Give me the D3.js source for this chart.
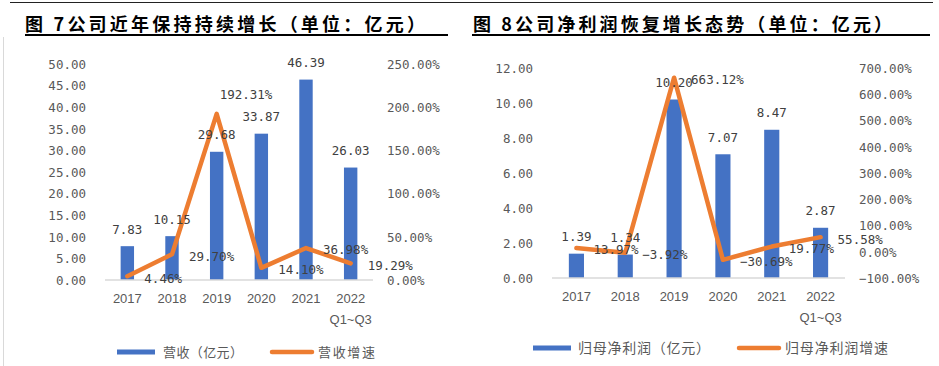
<!DOCTYPE html>
<html><head><meta charset="utf-8">
<script src="https://cdn.jsdelivr.net/npm/d3@7"></script>
<style>
html,body{margin:0;padding:0;background:#fff;}
svg{display:block;}
</style></head>
<body>
<svg id="c" width="939" height="366"></svg>
<script>
// ---- data ----
const categories = ["2017","2018","2019","2020","2021","2022|Q1~Q3"];
const revenue = [7.83, 10.15, 29.68, 33.87, 46.39, 26.03];
const revenueGrowth = [4.46, 29.70, 192.31, 14.10, 36.98, 19.29];
const profit = [1.39, 1.34, 10.20, 7.07, 8.47, 2.87];
const profitGrowth = [13.97, -3.92, 663.12, -30.69, 19.77, 55.58];
const revLeftTicks = [0,5,10,15,20,25,30,35,40,45,50];
const revRightTicks = [0,50,100,150,200,250];
const profLeftTicks = [0,2,4,6,8,10,12];
const profRightTicks = [-100,0,100,200,300,400,500,600,700];
const revGrowthLabelPlacement = ["right","right","above","right","right","right"];
const profGrowthLabelPlacement = ["right","right","right","right","right","right"];
const titles = ["图 7公司近年保持持续增长（单位：亿元）","图 8公司净利润恢复增长态势（单位：亿元）"];
const legendRev = ["营收（亿元）","营收增速"];
const legendProf = ["归母净利润（亿元）","归母净利润增速"];

const BLUE = "#4472C4", ORANGE = "#ED7D31", GRAY = "#595959", DARK = "#404040";
const MONO = "'DejaVu Sans Mono', 'Liberation Mono', monospace";
const SANS = "'Liberation Sans', Arial, sans-serif";
const CJK = "'Noto Sans CJK SC', sans-serif";

const svg = d3.select("#c");

// frame lines
svg.append("line").attr("x1",10).attr("x2",933).attr("y1",2.5).attr("y2",2.5)
  .attr("stroke","#222").attr("stroke-width",1);
svg.append("line").attr("x1",3.5).attr("x2",3.5).attr("y1",37).attr("y2",366)
  .attr("stroke","#d9d9d9").attr("stroke-width",1);

function drawTitle(text, x, len, ux1, ux2){
  svg.append("text").attr("x",x).attr("y",23).attr("dominant-baseline","central")
    .attr("font-family",CJK).attr("font-weight",700).attr("font-size",18)
    .attr("fill","#000").attr("textLength",len).attr("lengthAdjust","spacing").text(text);
  svg.append("line").attr("x1",ux1).attr("x2",ux2).attr("y1",35).attr("y2",35)
    .attr("stroke","#000").attr("stroke-width",2);
}
drawTitle(titles[0], 25, 400, 25, 448);
drawTitle(titles[1], 473, 419, 472, 930);

function drawChart(o){
  const g = svg.append("g");
  const x = d3.scaleBand().domain(o.cats).range([o.x0,o.x1]).paddingInner(o.pad).paddingOuter(o.pad/2);
  const yL = d3.scaleLinear().domain(o.lDom).range([o.yBot,o.yTop]);
  const yR = d3.scaleLinear().domain(o.rDom).range([o.yBot,o.yTop]);
  const cx = c => x(c) + x.bandwidth()/2;

  const aL = g.append("g").attr("transform",`translate(${o.x0},0)`)
    .call(d3.axisLeft(yL).tickValues(o.lTicks).tickSize(0).tickPadding(19).tickFormat(d3.format(".2f")));
  aL.select(".domain").remove();
  aL.selectAll("text").attr("font-family",MONO).attr("font-size",12.5).attr("fill",GRAY).attr("dy","0.35em").attr("y",0);

  const aR = g.append("g").attr("transform",`translate(${o.x1},0)`)
    .call(d3.axisRight(yR).tickValues(o.rTicks).tickSize(0).tickPadding(14).tickFormat(d => d3.format(".2f")(d)+"%"));
  aR.select(".domain").remove();
  aR.selectAll("text").attr("font-family",MONO).attr("font-size",12.5).attr("fill",GRAY).attr("dy","0.35em").attr("y",0);

  g.selectAll("rect.bar").data(o.bars).join("rect").attr("class","bar")
    .attr("x",(d,i)=>x(o.cats[i])).attr("width",x.bandwidth())
    .attr("y",d=>yL(d)).attr("height",d=>yL(0)-yL(d)).attr("fill",BLUE);

  g.append("line").attr("x1",o.x0).attr("x2",o.x1).attr("y1",yL(0)).attr("y2",yL(0))
    .attr("stroke","#d9d9d9").attr("stroke-width",1.5);

  const aX = g.append("g").attr("transform",`translate(0,${yL(0)})`)
    .call(d3.axisBottom(x).tickSize(0).tickPadding(0).tickFormat(""));
  aX.select(".domain").remove();
  aX.selectAll(".tick").each(function(c){
    const parts = c.split("|");
    parts.forEach((p,k)=>d3.select(this).append("text").attr("x",0).attr("y",18 + k*21).attr("dy","0.35em")
      .attr("fill",GRAY).attr("font-family",SANS).attr("font-size",13).attr("text-anchor","middle").text(p));
  });

  const line = d3.line().x((d,i)=>cx(o.cats[i])).y(d=>yR(d));
  g.append("path").datum(o.line).attr("d",line).attr("fill","none")
    .attr("stroke",ORANGE).attr("stroke-width",4.5).attr("stroke-linejoin","round").attr("stroke-linecap","round");

  g.selectAll("text.bl").data(o.bars).join("text").attr("class","bl")
    .attr("x",(d,i)=>cx(o.cats[i])).attr("y",d=>yL(d)-17).attr("dy","0.35em")
    .attr("text-anchor","middle").attr("font-family",MONO).attr("font-size",12.5).attr("fill",DARK)
    .text(d=>d3.format(".2f")(d));

  g.selectAll("text.ll").data(o.line).join("text").attr("class","ll")
    .attr("x",(d,i)=>cx(o.cats[i]) + (o.place[i]==="above" ? 3 : 17))
    .attr("y",(d,i)=>yR(d) + (o.place[i]==="above" ? -19 : 2)).attr("dy","0.35em")
    .attr("text-anchor","start").attr("font-family",MONO).attr("font-size",12.5).attr("fill",DARK)
    .text(d=>d3.format(".2f")(d)+"%");

  const L = o.legend;
  g.append("rect").attr("x",L.x1).attr("y",L.y-2.5).attr("width",38).attr("height",5).attr("fill",BLUE);
  g.append("text").attr("x",L.t1).attr("y",L.y).attr("dy","0.35em").attr("font-family",CJK)
    .attr("font-size",L.fs).attr("fill",GRAY).attr("textLength",L.len1).attr("lengthAdjust","spacing").text(L.labels[0]);
  g.append("line").attr("x1",L.x2).attr("x2",L.x2+40).attr("y1",L.y).attr("y2",L.y)
    .attr("stroke",ORANGE).attr("stroke-width",4.5).attr("stroke-linecap","round");
  g.append("text").attr("x",L.t2).attr("y",L.y).attr("dy","0.35em").attr("font-family",CJK)
    .attr("font-size",L.fs).attr("fill",GRAY).attr("textLength",L.len2).attr("lengthAdjust","spacing").text(L.labels[1]);
}

drawChart({
  cats: categories, bars: revenue, line: revenueGrowth, place: revGrowthLabelPlacement,
  x0:105, x1:373, yBot:280, yTop:64, pad:0.7,
  lDom:[0,50], rDom:[0,250], lTicks:revLeftTicks, rTicks:revRightTicks,
  legend:{x1:117, t1:163, x2:272, t2:318, y:352, fs:13, len1:80, len2:57, labels:legendRev}
});
drawChart({
  cats: categories, bars: profit, line: profitGrowth, place: profGrowthLabelPlacement,
  x0:552, x1:845, yBot:278, yTop:68, pad:0.69,
  lDom:[0,12], rDom:[-100,700], lTicks:profLeftTicks, rTicks:profRightTicks,
  legend:{x1:533, t1:578, x2:739, t2:785, y:348, fs:14, len1:132, len2:103, labels:legendProf}
});
</script>
</body></html>
